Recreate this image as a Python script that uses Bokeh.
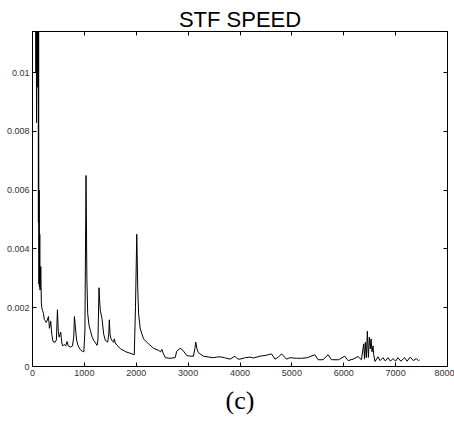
from bokeh.plotting import figure
from bokeh.models import Range1d, LinearAxis, FixedTicker, Title
from bokeh.embed import file_html
from bokeh.resources import INLINE

title_text = "STF SPEED"
caption_text = "(c)"
x_ticks = [0, 1000, 2000, 3000, 4000, 5000, 6000, 7000, 8000]
y_ticks = [0, 0.002, 0.004, 0.006, 0.008, 0.01]
y_tick_labels = ["0", "0.002", "0.004", "0.006", "0.008", "0.01"]

speed_x = [60, 66, 72, 78, 84, 90, 96, 102, 108, 114, 118, 124, 128, 134, 140, 146, 152, 160, 170, 179,
           195, 212, 228, 244, 262, 280, 308, 327, 352, 371, 390, 404, 436, 460, 481, 497, 513, 544, 565, 583,
           610, 640, 667, 690, 731, 770, 795, 808, 827, 850, 880, 923, 960, 990, 1010, 1032, 1048, 1064, 1090, 1115,
           1150, 1179, 1215, 1244, 1262, 1282, 1295, 1308, 1340, 1372, 1404, 1449, 1470, 1481, 1495, 1513, 1545, 1564, 1577, 1595,
           1628, 1700, 1800, 1900, 1962, 1985, 2010, 2030, 2045, 2077, 2141, 2237, 2333, 2429, 2470, 2494, 2520, 2560, 2650, 2750,
           2780, 2846, 2900, 2975, 3050, 3102, 3130, 3147, 3170, 3199, 3295, 3400, 3487, 3550, 3615, 3700, 3808, 3904, 3950, 4000,
           4100, 4192, 4260, 4385, 4500, 4609, 4673, 4740, 4801, 4898, 4960, 5090, 5186, 5300, 5442, 5506, 5600, 5698, 5763, 5900,
           6019, 6083, 6180, 6275, 6340, 6385, 6400, 6417, 6435, 6455, 6475, 6494, 6513, 6526, 6545, 6564, 6577, 6603, 6660, 6700,
           6756, 6800, 6853, 6900, 6950, 7000, 7045, 7100, 7173, 7220, 7282, 7340, 7397, 7442, 7461]
speed_y = [0.0130, 0.0100, 0.0135, 0.0083, 0.0128, 0.0102, 0.0140, 0.0095, 0.0130, 0.0049, 0.0120, 0.0028, 0.0060, 0.0027, 0.0045, 0.0026, 0.0030, 0.0034, 0.0022, 0.0020,
           0.0019, 0.0018, 0.0016, 0.00157, 0.0015, 0.00155, 0.0017, 0.0013, 0.00154, 0.0011, 0.0009, 0.00083, 0.00083, 0.0009, 0.00193, 0.0012, 0.0010, 0.00117, 0.0008, 0.0007,
           0.00075, 0.0007, 0.00085, 0.0007, 0.00066, 0.0007, 0.0010, 0.0017, 0.00134, 0.0009, 0.0007, 0.00057, 0.00052, 0.0005, 0.0012, 0.0065, 0.0030, 0.0018, 0.0014, 0.00123,
           0.0010, 0.00089, 0.0008, 0.00072, 0.0009, 0.00268, 0.0022, 0.0019, 0.00163, 0.0011, 0.00089, 0.00083, 0.0011, 0.00159, 0.0011, 0.00094, 0.00085, 0.00083, 0.00094, 0.0008,
           0.00072, 0.0006, 0.0005, 0.00044, 0.0004, 0.0020, 0.0045, 0.0026, 0.0018, 0.00128, 0.00094, 0.00077, 0.00062, 0.00055, 0.0005, 0.00058, 0.00045, 0.0003, 0.00028, 0.0003,
           0.00052, 0.00062, 0.00055, 0.00037, 0.00035, 0.00035, 0.0006, 0.00083, 0.0006, 0.00047, 0.00035, 0.00032, 0.0003, 0.00032, 0.00033, 0.0003, 0.00025, 0.00035, 0.00026, 0.00025,
           0.0003, 0.00032, 0.00029, 0.00035, 0.00038, 0.00043, 0.00025, 0.00032, 0.00043, 0.00025, 0.0003, 0.00028, 0.00028, 0.0003, 0.0004, 0.00023, 0.00023, 0.0004, 0.00023, 0.00023,
           0.00035, 0.0002, 0.00025, 0.00034, 0.00023, 0.00077, 0.00025, 0.00083, 0.0003, 0.0012, 0.00031, 0.0010, 0.0006, 0.00094, 0.0005, 0.0007, 0.0004, 0.00017, 0.00033, 0.0002,
           0.0003, 0.00019, 0.0003, 0.00018, 0.00027, 0.00018, 0.0003, 0.00018, 0.0003, 0.00018, 0.00032, 0.0002, 0.00027, 0.0002, 0.00022]

p = figure(width=454, height=425, output_backend="svg", toolbar_location=None,
           x_range=Range1d(0, 8000), y_range=Range1d(0, 0.0114),
           min_border_left=32, min_border_right=7, min_border_top=31, min_border_bottom=59)
p.xgrid.visible = False
p.ygrid.visible = False
p.outline_line_color = "black"
p.outline_line_width = 1
p.background_fill_color = "white"
p.border_fill_color = "white"

p.line(speed_x, speed_y, line_color="black", line_width=1.0)

sans = "Liberation Sans"
for ax in [p.xaxis[0], p.yaxis[0]]:
    ax.major_tick_in = 4
    ax.major_tick_out = 0
    ax.minor_tick_line_color = None
    ax.axis_line_color = "black"
    ax.major_tick_line_color = "black"
    ax.major_label_text_font = sans
    ax.major_label_text_font_size = "9px"
    ax.major_label_text_color = "#333333"
    ax.major_label_standoff = 3

p.xaxis[0].ticker = FixedTicker(ticks=x_ticks)
p.yaxis[0].ticker = FixedTicker(ticks=y_ticks)
p.yaxis[0].major_label_overrides = {t: l for t, l in zip(y_ticks, y_tick_labels)}

top_ax = LinearAxis(ticker=FixedTicker(ticks=x_ticks), major_tick_in=4, major_tick_out=0,
                    major_label_text_color=None, major_label_text_font_size="0px", major_label_standoff=0,
                    minor_tick_line_color=None, axis_line_color="black")
right_ax = LinearAxis(ticker=FixedTicker(ticks=y_ticks), major_tick_in=4, major_tick_out=0,
                      major_label_text_color=None, major_label_text_font_size="0px", major_label_standoff=0,
                      minor_tick_line_color=None, axis_line_color="black")
p.add_layout(top_ax, "above")
p.add_layout(right_ax, "right")

p.title = Title(text=title_text, align="center", text_font=sans, text_font_size="22px",
                text_font_style="normal", text_color="black", offset=0, standoff=0)

cap = Title(text=caption_text, align="center", text_font="Liberation Serif", text_font_size="26px",
            text_font_style="normal", text_color="black", offset=-7)
p.add_layout(cap, "below")

open("out.html", "w").write(file_html(p, INLINE))
